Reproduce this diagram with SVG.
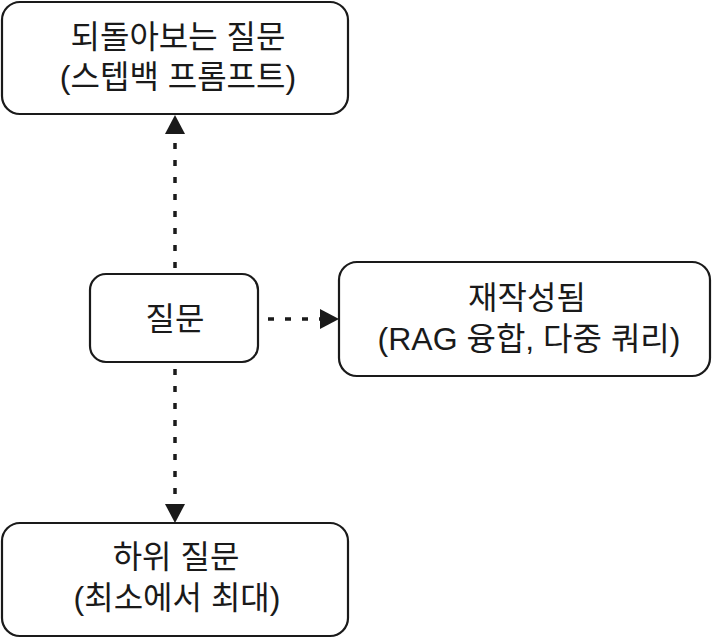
<svg xmlns="http://www.w3.org/2000/svg" width="713" height="639" viewBox="0 0 713 639">
<style>
.box{fill:#fff;stroke:#1a1a1a;stroke-width:2.2}
.t{font-family:"Liberation Sans","Noto Sans CJK KR",sans-serif;font-size:32px;fill:#1a1a1a;text-anchor:middle}
.c{stroke:#1a1a1a;stroke-width:3.5;stroke-dasharray:6 11;fill:none}
.h{fill:#1a1a1a}
</style>
<rect width="713" height="639" fill="#fff"/>
<g id="connectors">
<line class="c" x1="175" y1="268" x2="175" y2="134"/>
<polygon class="h" points="175,115 165,134 185,134"/>
<line class="c" x1="175" y1="369" x2="175" y2="504"/>
<polygon class="h" points="175,523 165,504 185,504"/>
<line class="c" x1="268" y1="319" x2="320" y2="319"/>
<polygon class="h" points="339,319 320,309 320,329"/>
</g>
<g id="stepback">
<rect class="box" x="2" y="2" width="346" height="112" rx="18"/>
<text class="t" x="178" y="48">되돌아보는 질문</text>
<text class="t" x="178" y="88">(스텝백 프롬프트)</text>
</g>
<g id="question">
<rect class="box" x="90" y="274" width="168" height="88" rx="16"/>
<text class="t" x="175" y="330">질문</text>
</g>
<g id="rewritten">
<rect class="box" x="339" y="262" width="371" height="114" rx="18"/>
<text class="t" x="527" y="309">재작성됨</text>
<text class="t" x="529" y="350">(RAG 융합, 다중 쿼리)</text>
</g>
<g id="subquestion">
<rect class="box" x="2" y="523" width="346" height="113" rx="18"/>
<text class="t" x="176" y="568">하위 질문</text>
<text class="t" x="177" y="609">(최소에서 최대)</text>
</g>
</svg>
